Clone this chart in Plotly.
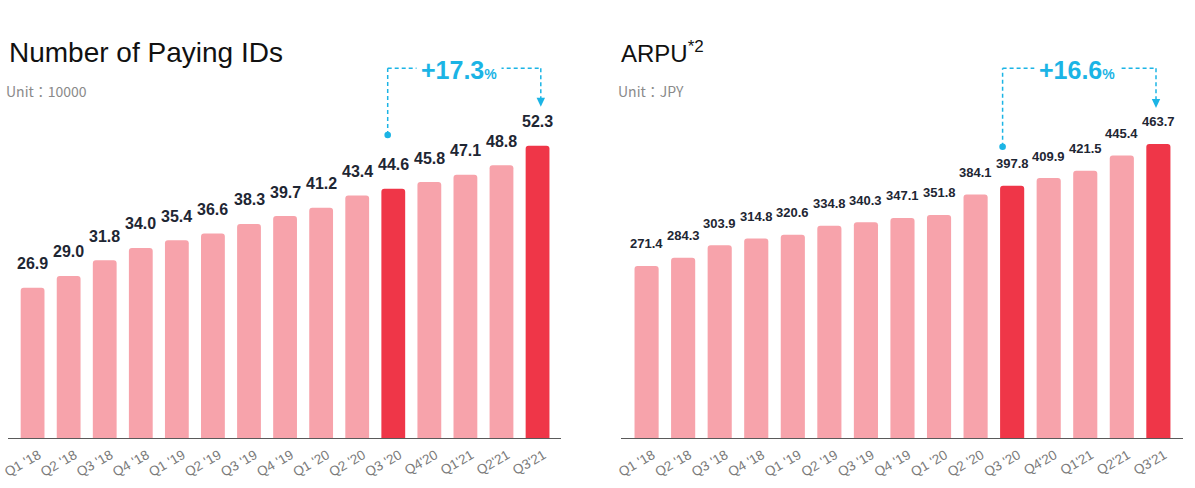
import plotly.graph_objects as go

# ---------------- data ----------------
quarters = ["Q1 '18", "Q2 '18", "Q3 '18", "Q4 '18", "Q1 '19", "Q2 '19", "Q3 '19",
            "Q4 '19", "Q1 '20", "Q2 '20", "Q3 '20", "Q4'20", "Q1'21", "Q2'21", "Q3'21"]
paying_ids = [26.9, 29.0, 31.8, 34.0, 35.4, 36.6, 38.3, 39.7, 41.2, 43.4, 44.6, 45.8, 47.1, 48.8, 52.3]
arpu = [271.4, 284.3, 303.9, 314.8, 320.6, 334.8, 340.3, 347.1, 351.8, 384.1, 397.8, 409.9, 421.5, 445.4, 463.7]
highlight = ["Q3 '20", "Q3'21"]
growth_ids = "+17.3"
growth_arpu = "+16.6"
titles = ["Number of Paying IDs", "ARPU<sup><span style='font-size:17px'>*2</span></sup>"]
units = ["Unit：10000", "Unit：JPY"]

# ---------------- style ----------------
W, H = 1195, 488
BASE_PX = 438
PINK = "#F7A3AB"
RED = "#EF3648"
CYAN = "#1BB4E5"
LABEL = "#1E2633"
FONT = "Liberation Sans, Arial, sans-serif"

panels = [
    dict(values=paying_ids, growth=growth_ids, xpx=(7.7, 561.0), xr=(-0.69, 14.65),
         ymax=78.37, lab_size=16, lab_shift=24, xa="x", ya="y",
         bx=(387.7, 540.8), dot_px=135, tip_px=106.7, txt_px=458.5,
         title_x=7, title_size=28),
    dict(values=arpu, growth=growth_arpu, xpx=(621.0, 1182.5), xr=(-0.70, 14.66),
         ymax=690.8, lab_size=13, lab_shift=22, xa="x2", ya="y2",
         bx=(1002.6, 1156.0), dot_px=146.7, tip_px=108, txt_px=1076.5,
         title_x=619, title_size=24),
]
TOP_PX = 68.3

fig = go.Figure()
colors = [RED if q in highlight else PINK for q in quarters]

shapes, annotations = [], []
layout_axes = {}
for k, p in enumerate(panels):
    sfx = "" if k == 0 else "2"
    fig.add_trace(go.Bar(x=quarters, y=p["values"], marker=dict(color=colors, line_width=0, cornerradius=3),
                         width=0.66, xaxis=p["xa"], yaxis=p["ya"], hoverinfo="x+y", showlegend=False))
    dom = [p["xpx"][0] / W, p["xpx"][1] / W]
    layout_axes["xaxis" + sfx] = dict(domain=dom, type="category", range=list(p["xr"]),
                                      showline=True, linecolor="#5a5a5a", linewidth=1.3,
                                      showgrid=False, zeroline=False, ticks="", tickangle=-30,
                                      ticklabelshift=6, ticklabelstandoff=3,
                                      tickfont=dict(family=FONT, size=13.5, color="#7a7a7a"),
                                      anchor=p["ya"], fixedrange=True, automargin=False)
    layout_axes["yaxis" + sfx] = dict(domain=[1 - BASE_PX / H, 1], range=[0, p["ymax"]],
                                      showgrid=False, zeroline=False, showticklabels=False,
                                      showline=False, anchor=p["xa"], fixedrange=True,
                                      automargin=False)

    # value labels
    for q, v in zip(quarters, p["values"]):
        annotations.append(dict(x=q, y=v, xref=p["xa"], yref=p["ya"], text="<b>%.1f</b>" % v,
                                showarrow=False, yanchor="middle", yshift=p["lab_shift"],
                                font=dict(family=FONT, size=p["lab_size"], color=LABEL)))

    # pixel -> data helpers
    def px2x(px, p=p):
        a, b = p["xpx"]
        return p["xr"][0] + (px - a) / (b - a) * (p["xr"][1] - p["xr"][0])

    def px2y(py, p=p):
        return (BASE_PX - py) / BASE_PX * p["ymax"]

    xl, xrr = px2x(p["bx"][0]), px2x(p["bx"][1])
    ytop, ydot, ytip = px2y(TOP_PX), px2y(p["dot_px"]), px2y(p["tip_px"])
    ytri = px2y(p["tip_px"] - 8)
    dash = dict(color=CYAN, width=1.5, dash="4px,3px")
    shapes += [
        dict(type="line", xref=p["xa"], yref=p["ya"], x0=xl, x1=xl, y0=ydot, y1=ytop, line=dash),
        dict(type="line", xref=p["xa"], yref=p["ya"], x0=xl, x1=xrr, y0=ytop, y1=ytop, line=dash),
        dict(type="line", xref=p["xa"], yref=p["ya"], x0=xrr, x1=xrr, y0=ytop, y1=ytri, line=dash),
        dict(type="circle", xref=p["xa"], yref=p["ya"], xsizemode="pixel", ysizemode="pixel",
             xanchor=xl, yanchor=ydot, x0=-3.3, x1=3.3, y0=-3.3, y1=3.3,
             fillcolor=CYAN, line_width=0),
        dict(type="path", xref=p["xa"], yref=p["ya"], xsizemode="pixel", ysizemode="pixel",
             xanchor=xrr, yanchor=ytip, path="M -4.2,9 L 4.2,9 L 0,0 Z",
             fillcolor=CYAN, line_width=0),
    ]
    annotations.append(dict(x=px2x(p["txt_px"]), y=ytop, xref=p["xa"], yref=p["ya"],
                            text="<b>%s</b><span style='font-size:14px'><b>%%</b></span>" % p["growth"],
                            showarrow=False, bgcolor="white", borderpad=4, yshift=-2,
                            font=dict(family=FONT, size=25, color=CYAN)))

    # titles
    annotations.append(dict(x=p["title_x"] / W, y=1 - 52 / H, xref="paper", yref="paper",
                            xanchor="left", yanchor="middle", text=titles[k], showarrow=False,
                            font=dict(family=FONT, size=p["title_size"], color="#111111")))
    annotations.append(dict(x=(p["title_x"] - 3) / W, y=1 - 91 / H, xref="paper", yref="paper",
                            xanchor="left", yanchor="middle", text=units[k], showarrow=False,
                            font=dict(family="Noto Sans CJK JP, Noto Sans, sans-serif", size=14,
                                      color="#8a8a8a")))

fig.update_layout(width=W, height=H, margin=dict(l=0, r=0, t=0, b=0, autoexpand=False),
                  paper_bgcolor="white", plot_bgcolor="white", bargap=0.34,
                  shapes=shapes, annotations=annotations, **layout_axes)

fig.write_html("out.html", config={"displayModeBar": False},
               post_script="document.body.style.margin='0px';document.body.style.overflow='hidden';")
